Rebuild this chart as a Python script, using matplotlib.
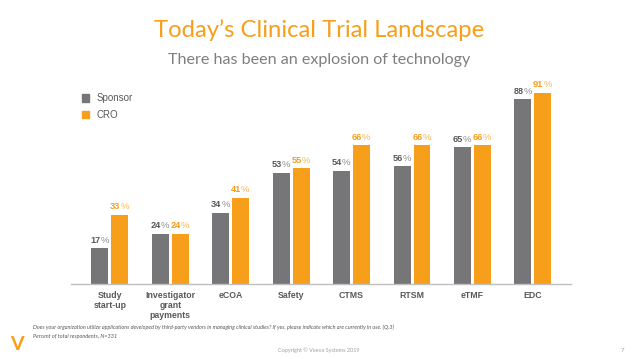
import matplotlib.pyplot as plt
import numpy as np

categories = ['Study\nstart-up', 'Investigator\ngrant\npayments', 'eCOA', 'Safety',
              'CTMS', 'RTSM', 'eTMF', 'EDC']
sponsor = [17, 24, 34, 53, 54, 56, 65, 88]
cro = [33, 24, 41, 55, 66, 66, 66, 91]

grey = '#767679'
orange = '#F79E1B'
label_grey = '#595959'

fig = plt.figure(figsize=(6.38, 3.59), dpi=100)
ax = fig.add_axes([0.111, 0.209, 0.784, 0.585])

x = np.arange(len(categories))
w = 0.28
gap = 0.025
ax.bar(x - w / 2 - gap, sponsor, w, color=grey)
ax.bar(x + w / 2 + gap, cro, w, color=orange)

# value labels: bold number + lighter percent sign
for xs, vals, col, pcol in [(x - w / 2 - gap, sponsor, label_grey, '#8c8c8c'),
                            (x + w / 2 + gap, cro, orange, '#F9B653')]:
    for xi, v in zip(xs, vals):
        ax.annotate(str(v), (xi, v), xytext=(0.3, 2.5), textcoords='offset points',
                    ha='right', va='bottom', fontsize=6.6, fontweight='bold',
                    color=col, family='Liberation Sans')
        ax.annotate('%', (xi, v), xytext=(0.3, 2.5), textcoords='offset points',
                    ha='left', va='bottom', fontsize=6.8, color=pcol,
                    family='Liberation Sans')

ax.set_xlim(-0.645, 7.63)
ax.set_ylim(0, 100)
for s in ['top', 'right', 'left']:
    ax.spines[s].set_visible(False)
ax.spines['bottom'].set_color('#bfbfbf')
ax.spines['bottom'].set_linewidth(1)
ax.set_yticks([])
ax.set_xticks(x)
ax.set_xticklabels(categories, fontsize=6.3, color=label_grey, family='Liberation Sans',
                   fontweight='bold', linespacing=1.15)
ax.tick_params(axis='x', length=0, pad=5)

# legend
fig.patches.append(plt.Rectangle((0.128, 0.717), 0.011, 0.021, color=grey,
                                 transform=fig.transFigure))
fig.patches.append(plt.Rectangle((0.128, 0.670), 0.011, 0.021, color=orange,
                                 transform=fig.transFigure))
fig.text(0.152, 0.728, 'Sponsor', fontsize=7, color=label_grey, va='center',
         family='Liberation Sans')
fig.text(0.152, 0.681, 'CRO', fontsize=7, color=label_grey, va='center',
         family='Liberation Sans')

# titles
fig.text(0.5, 0.915, 'Today\u2019s Clinical Trial Landscape', ha='center', va='center',
         fontsize=17.2, color=orange, family='Lato')
fig.text(0.5, 0.832, 'There has been an explosion of technology', ha='center',
         va='center', fontsize=11.6, color='#7f7f7f', family='Lato')

# footnotes
fig.text(0.051, 0.089, 'Does your organization utilize applications developed by third-party '
         'vendors in managing clinical studies? If yes, please indicate which are currently '
         'in use. (Q.3)', fontsize=4.0, style='italic', color=label_grey, family='Lato',
         va='center')
fig.text(0.051, 0.064, 'Percent of total respondents, N=331', fontsize=4.0, style='italic',
         color=label_grey, family='Lato', va='center')
fig.text(0.5, 0.025, 'Copyright \u00a9 Veeva Systems 2019', ha='center', va='center',
         fontsize=4, color='#a0a0a0', family='Lato')
fig.text(0.975, 0.025, '7', ha='center', va='center', fontsize=4.5, color='#a0a0a0',
         family='Lato')
fig.text(0.027, 0.04, 'V', ha='center', va='center', fontsize=14, color=orange,
         fontweight='bold', family='Lato')

fig.savefig('out.png', dpi=100)
